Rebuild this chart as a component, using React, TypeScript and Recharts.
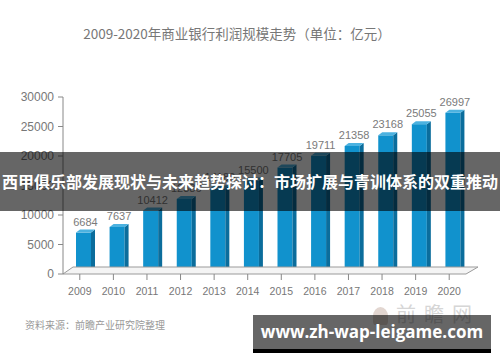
import React from 'react';
import { BarChart, Bar, XAxis, YAxis, LabelList, ReferenceLine } from 'recharts';

const years = ['2009', '2010', '2011', '2012', '2013', '2014', '2015', '2016', '2017', '2018', '2019', '2020'];
const profits = [6684, 7637, 10412, 12386, 14180, 15500, 17705, 19711, 21358, 23168, 25055, 26997];
const yTicks = [0, 5000, 10000, 15000, 20000, 25000, 30000];

const data = years.map((year, i) => ({ year, profit: profits[i] }));

const CN = '"Noto Sans CJK SC", "Liberation Sans", sans-serif';
const NUM = '"Liberation Sans", Arial, sans-serif';

// 3D-ish bar: front face, right side, top
const Bar3D = (props: any) => {
  const { x, y, width, height } = props;
  if (height == null || height <= 0) return null;
  const fx = x + 4;
  const fy = y - 2;
  const d = 4;
  const up = 3;
  return (
    <g>
      <rect x={fx} y={fy} width={width} height={height} fill="#1192cd" />
      <polygon
        points={`${fx + width},${fy} ${fx + width + d},${fy - up} ${fx + width + d},${fy + height - up} ${fx + width},${fy + height}`}
        fill="#0b6d9c"
      />
      <polygon
        points={`${fx},${fy} ${fx + d},${fy - up} ${fx + width + d},${fy - up} ${fx + width},${fy}`}
        fill="#4cb2e0"
      />
    </g>
  );
};

const Floor = (props: any) => {
  const { x1, y1, x2, y2 } = props;
  if (x1 == null) return null;
  return (
    <polygon
      points={`${x1},${y1} ${x2},${y2} ${x2 + 12},${y2 - 7} ${x1 + 10},${y1 - 7}`}
      fill="#f4f4f4"
      stroke="#9a9a9a"
      strokeWidth={1}
    />
  );
};

const ValueLabel = (props: any) => {
  const { x, y, width, value } = props;
  return (
    <text x={x + width / 2 + 6} y={y - 9} textAnchor="middle" fill="#7a7a7a" fontSize={11} fontFamily={NUM}>
      {value}
    </text>
  );
};

const App: React.FC = () => {
  return (
    <div style={{ position: 'absolute', left: 0, top: 0, width: 500, height: 362, background: '#fff', overflow: 'hidden' }}>
      <div
        style={{
          position: 'absolute', left: 0, width: 500, top: 23, textAlign: 'center',
          fontFamily: CN, fontSize: 13.5, color: '#777', paddingRight: 26, boxSizing: 'border-box',
        }}
      >
        2009-2020年商业银行利润规模走势（单位：亿元）
      </div>

      <BarChart
        width={500}
        height={362}
        data={data}
        margin={{ top: 97, right: 34, left: 0, bottom: 68 }}
        barCategoryGap={0}
        style={{ position: 'absolute', left: 0, top: 0 }}
      >
        <ReferenceLine y={0} shape={<Floor />} />
        <YAxis
          width={63}
          domain={[0, 30000]}
          ticks={yTicks}
          interval={0}
          stroke="#888"
          tickSize={5}
          tick={{ fontSize: 12, fill: '#777', fontFamily: NUM }}
          tickMargin={4}
        />
        <XAxis
          dataKey="year"
          stroke="#888"
          tickSize={6}
          height={20}
          interval={0}
          tick={{ fontSize: 10.5, fill: '#777', fontFamily: NUM, dy: 6 }}
          axisLine={false}
        />
        <Bar dataKey="profit" barSize={15} shape={<Bar3D />} isAnimationActive={false}>
          <LabelList dataKey="profit" content={<ValueLabel />} />
        </Bar>
      </BarChart>

      {/* watermark logo */}
      <div style={{ position: 'absolute', left: 373, top: 299, color: '#d6d6d6', fontFamily: CN, fontSize: 20, letterSpacing: 8, whiteSpace: 'nowrap' }}>
        <span style={{ display: 'inline-block', width: 15, height: 18, borderRadius: '50% 50% 20% 20%', background: '#e2d6d0', verticalAlign: -3, marginRight: 8 }} />
        前瞻网
      </div>

      <div style={{ position: 'absolute', left: 25, top: 317, fontFamily: CN, fontSize: 10, color: '#999', whiteSpace: 'nowrap' }}>
        资料来源：前瞻产业研究院整理
      </div>

      {/* overlay banners */}
      <div
        style={{
          position: 'absolute', left: 0, top: 152, width: 500, height: 59, background: 'rgba(0,0,0,0.6)',
          color: '#fff', fontFamily: CN, fontWeight: 700, fontSize: 16, lineHeight: '59px', textAlign: 'center',
          whiteSpace: 'nowrap',
        }}
      >
        西甲俱乐部发展现状与未来趋势探讨：市场扩展与青训体系的双重推动
      </div>
      <div
        style={{
          position: 'absolute', left: 253, top: 315, width: 238, height: 34, background: 'rgba(0,0,0,0.6)',
          borderBottom: '4px solid #000', color: '#fff', fontFamily: '"Open Sans", sans-serif', fontWeight: 700,
          fontSize: 17, lineHeight: '34px', textAlign: 'center', whiteSpace: 'nowrap',
        }}
      >
        www.zh-wap-leigame.com
      </div>
    </div>
  );
};

export default App;
